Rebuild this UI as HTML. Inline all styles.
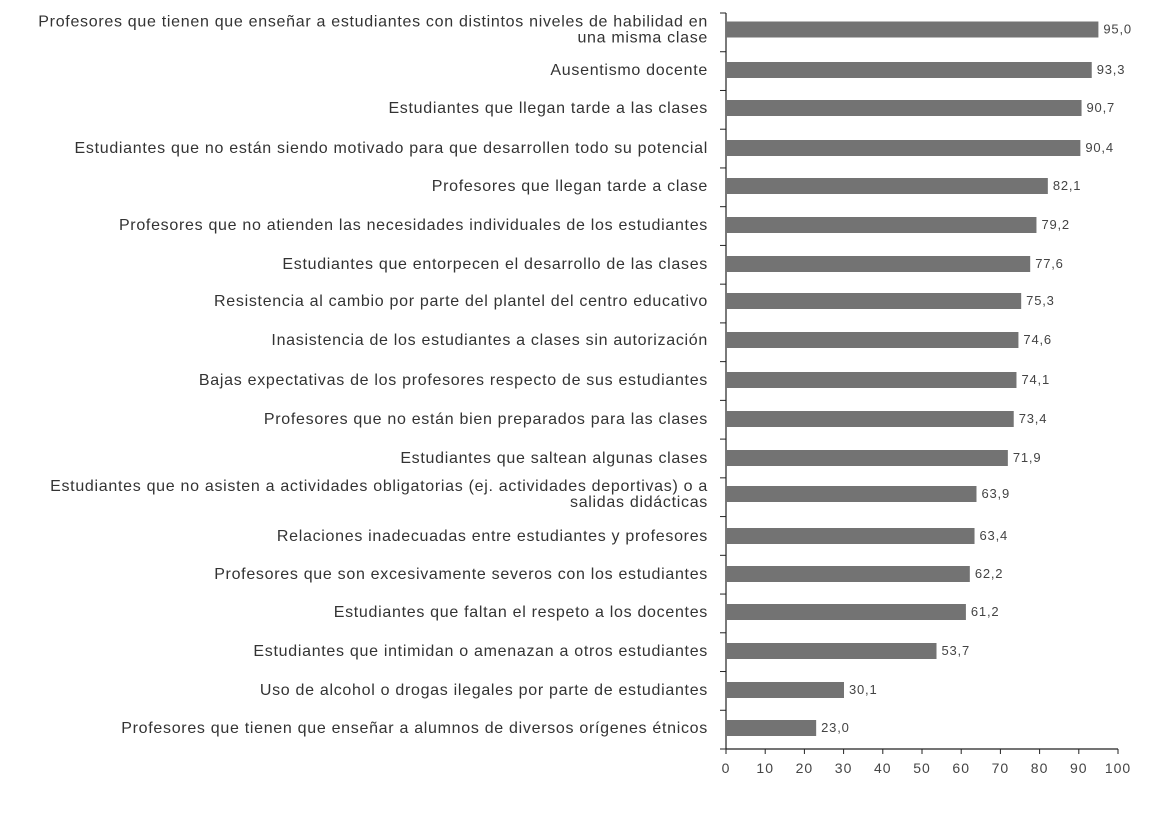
<!DOCTYPE html><html><head><meta charset="utf-8"><style>body{margin:0;background:#fff}</style></head><body>
<svg width="1157" height="809" xmlns="http://www.w3.org/2000/svg" font-family="Liberation Sans, sans-serif">
<g id="g"></g>
</svg>
<script>
(function(){
const d=[["Profesores que tienen que enseñar a estudiantes con distintos niveles de habilidad en|una misma clase",95.0],["Ausentismo docente",93.3],["Estudiantes que llegan tarde a las clases",90.7],["Estudiantes que no están siendo motivado para que desarrollen todo su potencial",90.4],["Profesores que llegan tarde a clase",82.1],["Profesores que no atienden las necesidades individuales de los estudiantes",79.2],["Estudiantes que entorpecen el desarrollo de las clases",77.6],["Resistencia al cambio por parte del plantel del centro educativo",75.3],["Inasistencia de los estudiantes a clases sin autorización",74.6],["Bajas expectativas de los profesores respecto de sus estudiantes",74.1],["Profesores que no están bien preparados para las clases",73.4],["Estudiantes que saltean algunas clases",71.9],["Estudiantes que no asisten a actividades obligatorias (ej. actividades deportivas) o a|salidas didácticas",63.9],["Relaciones inadecuadas entre estudiantes y profesores",63.4],["Profesores que son excesivamente severos con los estudiantes",62.2],["Estudiantes que faltan el respeto a los docentes",61.2],["Estudiantes que intimidan o amenazan a otros estudiantes",53.7],["Uso de alcohol o drogas ilegales por parte de estudiantes",30.1],["Profesores que tienen que enseñar a alumnos de diversos orígenes étnicos",23.0]];
const cy=[29.5,70,108,148,186,225,264,301,340,380,419,458,494,536,574,612,651,690,728];
const x0=726,sc=3.92,t0=13,bt=749,band=(bt-t0)/19;let s='';
s+=`<line x1="${x0}" y1="${t0}" x2="${x0}" y2="${bt}" stroke="#222" stroke-width="1.2"/>`;
s+=`<line x1="${x0}" y1="${bt}" x2="${x0+392}" y2="${bt}" stroke="#222" stroke-width="1.2"/>`;
for(let i=0;i<=19;i++){const y=t0+i*band;s+=`<line x1="${x0-6}" y1="${y}" x2="${x0}" y2="${y}" stroke="#222"/>`;}
for(let v=0;v<=100;v+=10){const x=x0+v*sc;s+=`<line x1="${x}" y1="${bt}" x2="${x}" y2="${bt+5}" stroke="#222"/><text x="${x}" y="${bt+24}" font-size="14" letter-spacing="1" fill="#444" text-anchor="middle">${v}</text>`;}
d.forEach((r,i)=>{const c=cy[i],w=r[1]*sc;
s+=`<rect x="${x0}" y="${c-8}" width="${w}" height="16" fill="#737373"/>`;
s+=`<text x="${x0+w+5}" y="${c+4}" font-size="13" letter-spacing="0.8" fill="#444">${r[1].toFixed(1).replace('.',',')}</text>`;
const L=r[0].split('|');
const a='font-size="16" letter-spacing="0.7" fill="#333" text-anchor="end"';
if(L.length==1)s+=`<text x="708" y="${c+5}" ${a}>${L[0]}</text>`;
else s+=`<text x="708" y="${c-3}" ${a}>${L[0]}</text><text x="708" y="${c+13}" ${a}>${L[1]}</text>`;});
document.getElementById('g').innerHTML=s;
})();
</script>
</body></html>
